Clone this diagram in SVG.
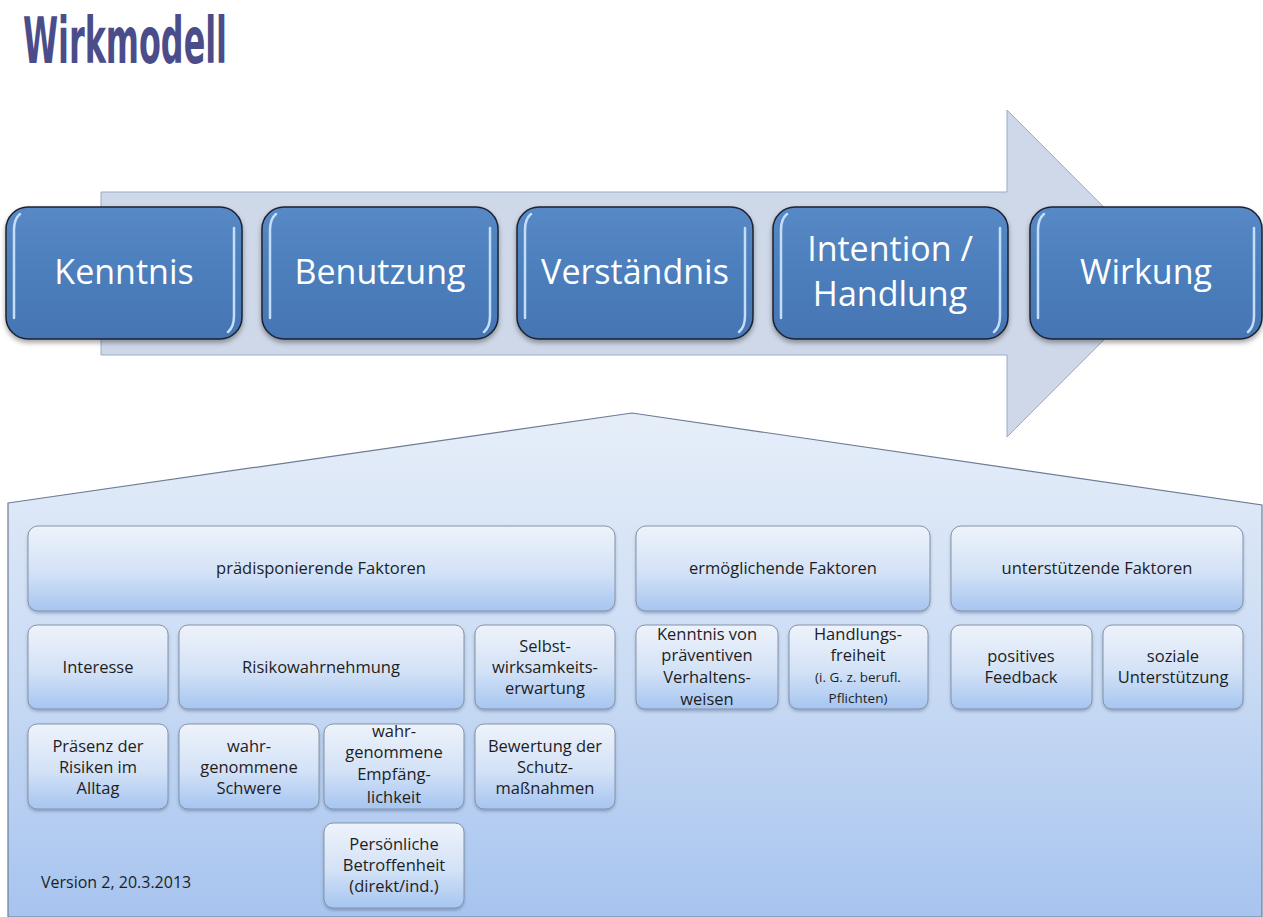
<svg xmlns="http://www.w3.org/2000/svg" width="1263" height="917" viewBox="0 0 1263 917">
  <defs>
    <linearGradient id="gBig" x1="0" y1="0" x2="0" y2="1">
      <stop offset="0" stop-color="#5789c6"/>
      <stop offset="0.5" stop-color="#4c7ebc"/>
      <stop offset="1" stop-color="#4675b3"/>
    </linearGradient>
    <linearGradient id="gSmall" x1="0" y1="0" x2="0" y2="1">
      <stop offset="0" stop-color="#eef3fb"/>
      <stop offset="0.55" stop-color="#d3e2f6"/>
      <stop offset="1" stop-color="#a6c5f1"/>
    </linearGradient>
    <linearGradient id="gBase" x1="0" y1="0" x2="0" y2="1">
      <stop offset="0" stop-color="#e6eef9"/>
      <stop offset="0.5" stop-color="#cbdcf4"/>
      <stop offset="1" stop-color="#a7c4ef"/>
    </linearGradient>
    <filter id="shBig" x="-10%" y="-10%" width="120%" height="130%">
      <feDropShadow dx="0" dy="3" stdDeviation="2.5" flood-color="#000" flood-opacity="0.35"/>
    </filter>
    <filter id="shSmall" x="-10%" y="-10%" width="120%" height="130%">
      <feDropShadow dx="0" dy="2" stdDeviation="1.5" flood-color="#34496b" flood-opacity="0.35"/>
    </filter>
  </defs>
  <style>
    .title { font-family: "DejaVu Sans Condensed", "DejaVu Sans", sans-serif; font-weight: bold; font-size: 64px; fill: #4b4d8a; }
    .big { fill: url(#gBig); stroke: #1c2230; stroke-width: 1.5; filter: url(#shBig); }
    .hl { fill: none; stroke: #c4defa; stroke-width: 2.5; stroke-linecap: round; }
    .bigtxt { font-family: "Open Sans", "Liberation Sans", sans-serif; font-size: 34px; fill: #ffffff; text-anchor: middle; }
    .small { fill: url(#gSmall); stroke: #8593a8; stroke-width: 1; filter: url(#shSmall); }
    .txt { font-family: "Open Sans", "Liberation Sans", sans-serif; font-size: 16.5px; fill: #1e1e1e; text-anchor: middle; }
    .tiny { font-size: 13.5px; }
    .note { font-family: "Open Sans", "Liberation Sans", sans-serif; font-size: 16px; fill: #1e1e1e; }
  </style>

  <rect x="0" y="0" width="1263" height="917" fill="#ffffff"/>

  <text class="title" x="23" y="63" textLength="204" lengthAdjust="spacingAndGlyphs">Wirkmodell</text>

  <!-- background arrow -->
  <g id="flow-arrow">
    <path d="M101,192 L1007,192 L1007,110 L1170,273.5 L1007,437 L1007,355 L101,355 Z" fill="#cfd8e8" stroke="#97abca" stroke-width="1"/>
  </g>

  <!-- base pentagon -->
  <g id="factor-panel">
    <path d="M8,503 L632,413 L1262,505 L1262,917 L8,917 Z" fill="url(#gBase)" stroke="#6c7c96" stroke-width="1.2"/>
  </g>

  <g id="connectors"></g>

  <!-- stage boxes -->
  <g id="kenntnis">
    <rect class="big" x="6" y="207" width="236" height="132" rx="22"/>
    <path class="hl" d="M14,318 L14,230 Q14,219 20,214"/>
    <path class="hl" d="M234,228 L234,316 Q234,327 228,332"/>
    <text class="bigtxt" x="124" y="284">Kenntnis</text>
  </g>
  <g id="benutzung">
    <rect class="big" x="262" y="207" width="236" height="132" rx="22"/>
    <path class="hl" d="M270,318 L270,230 Q270,219 276,214"/>
    <path class="hl" d="M490,228 L490,316 Q490,327 484,332"/>
    <text class="bigtxt" x="380" y="284">Benutzung</text>
  </g>
  <g id="verstaendnis">
    <rect class="big" x="517" y="207" width="236" height="132" rx="22"/>
    <path class="hl" d="M525,318 L525,230 Q525,219 531,214"/>
    <path class="hl" d="M745,228 L745,316 Q745,327 739,332"/>
    <text class="bigtxt" x="635" y="284">Verständnis</text>
  </g>
  <g id="intention-handlung">
    <rect class="big" x="773" y="207" width="235" height="132" rx="22"/>
    <path class="hl" d="M781,318 L781,230 Q781,219 787,214"/>
    <path class="hl" d="M1000,228 L1000,316 Q1000,327 994,332"/>
    <text class="bigtxt" x="890" y="261">Intention /</text>
    <text class="bigtxt" x="890" y="306">Handlung</text>
  </g>
  <g id="wirkung">
    <rect class="big" x="1030" y="207" width="232" height="132" rx="22"/>
    <path class="hl" d="M1038,318 L1038,230 Q1038,219 1044,214"/>
    <path class="hl" d="M1254,228 L1254,316 Q1254,327 1248,332"/>
    <text class="bigtxt" x="1146" y="284">Wirkung</text>
  </g>

  <!-- factor headers -->
  <g id="praedisponierende-faktoren">
    <rect class="small" x="28" y="526" width="587" height="85" rx="10"/>
    <text class="txt" x="321" y="574">prädisponierende Faktoren</text>
  </g>
  <g id="ermoeglichende-faktoren">
    <rect class="small" x="636" y="526" width="294" height="85" rx="10"/>
    <text class="txt" x="783" y="574">ermöglichende Faktoren</text>
  </g>
  <g id="unterstuetzende-faktoren">
    <rect class="small" x="951" y="526" width="292" height="85" rx="10"/>
    <text class="txt" x="1097" y="574">unterstützende Faktoren</text>
  </g>

  <!-- row 2 -->
  <g id="interesse">
    <rect class="small" x="28" y="625" width="140" height="84" rx="9"/>
    <text class="txt" x="98" y="673">Interesse</text>
  </g>
  <g id="risikowahrnehmung">
    <rect class="small" x="179" y="625" width="285" height="84" rx="9"/>
    <text class="txt" x="321" y="673">Risikowahrnehmung</text>
  </g>
  <g id="selbstwirksamkeitserwartung">
    <rect class="small" x="475" y="625" width="140" height="84" rx="9"/>
    <text class="txt" x="545" y="652">Selbst-</text>
    <text class="txt" x="545" y="673">wirksamkeits-</text>
    <text class="txt" x="545" y="694">erwartung</text>
  </g>
  <g id="kenntnis-praeventive-verhaltensweisen">
    <rect class="small" x="636" y="625" width="142" height="84" rx="9"/>
    <text class="txt" x="707" y="640">Kenntnis von</text>
    <text class="txt" x="707" y="661">präventiven</text>
    <text class="txt" x="707" y="683">Verhaltens-</text>
    <text class="txt" x="707" y="705">weisen</text>
  </g>
  <g id="handlungsfreiheit">
    <rect class="small" x="789" y="625" width="139" height="84" rx="9"/>
    <text class="txt" x="858" y="640">Handlungs-</text>
    <text class="txt" x="858" y="661">freiheit</text>
    <text class="txt tiny" x="858" y="682">(i. G. z. berufl.</text>
    <text class="txt tiny" x="858" y="703">Pflichten)</text>
  </g>
  <g id="positives-feedback">
    <rect class="small" x="951" y="625" width="141" height="84" rx="9"/>
    <text class="txt" x="1021" y="662">positives</text>
    <text class="txt" x="1021" y="683">Feedback</text>
  </g>
  <g id="soziale-unterstuetzung">
    <rect class="small" x="1103" y="625" width="140" height="84" rx="9"/>
    <text class="txt" x="1173" y="662">soziale</text>
    <text class="txt" x="1173" y="683">Unterstützung</text>
  </g>

  <!-- row 3 -->
  <g id="praesenz-der-risiken">
    <rect class="small" x="28" y="724" width="140" height="85" rx="9"/>
    <text class="txt" x="98" y="752">Präsenz der</text>
    <text class="txt" x="98" y="773">Risiken im</text>
    <text class="txt" x="98" y="794">Alltag</text>
  </g>
  <g id="wahrgenommene-schwere">
    <rect class="small" x="179" y="724" width="140" height="85" rx="9"/>
    <text class="txt" x="249" y="752">wahr-</text>
    <text class="txt" x="249" y="773">genommene</text>
    <text class="txt" x="249" y="794">Schwere</text>
  </g>
  <g id="wahrgenommene-empfaenglichkeit">
    <rect class="small" x="324" y="724" width="140" height="85" rx="9"/>
    <text class="txt" x="394" y="737">wahr-</text>
    <text class="txt" x="394" y="758">genommene</text>
    <text class="txt" x="394" y="780">Empfäng-</text>
    <text class="txt" x="394" y="803">lichkeit</text>
  </g>
  <g id="bewertung-schutzmassnahmen">
    <rect class="small" x="475" y="724" width="140" height="85" rx="9"/>
    <text class="txt" x="545" y="752">Bewertung der</text>
    <text class="txt" x="545" y="773">Schutz-</text>
    <text class="txt" x="545" y="794">maßnahmen</text>
  </g>

  <!-- row 4 -->
  <g id="persoenliche-betroffenheit">
    <rect class="small" x="324" y="823" width="140" height="85" rx="9"/>
    <text class="txt" x="394" y="850">Persönliche</text>
    <text class="txt" x="394" y="871">Betroffenheit</text>
    <text class="txt" x="394" y="892">(direkt/ind.)</text>
  </g>

  <text class="note" x="41" y="888">Version 2, 20.3.2013</text>
</svg>
